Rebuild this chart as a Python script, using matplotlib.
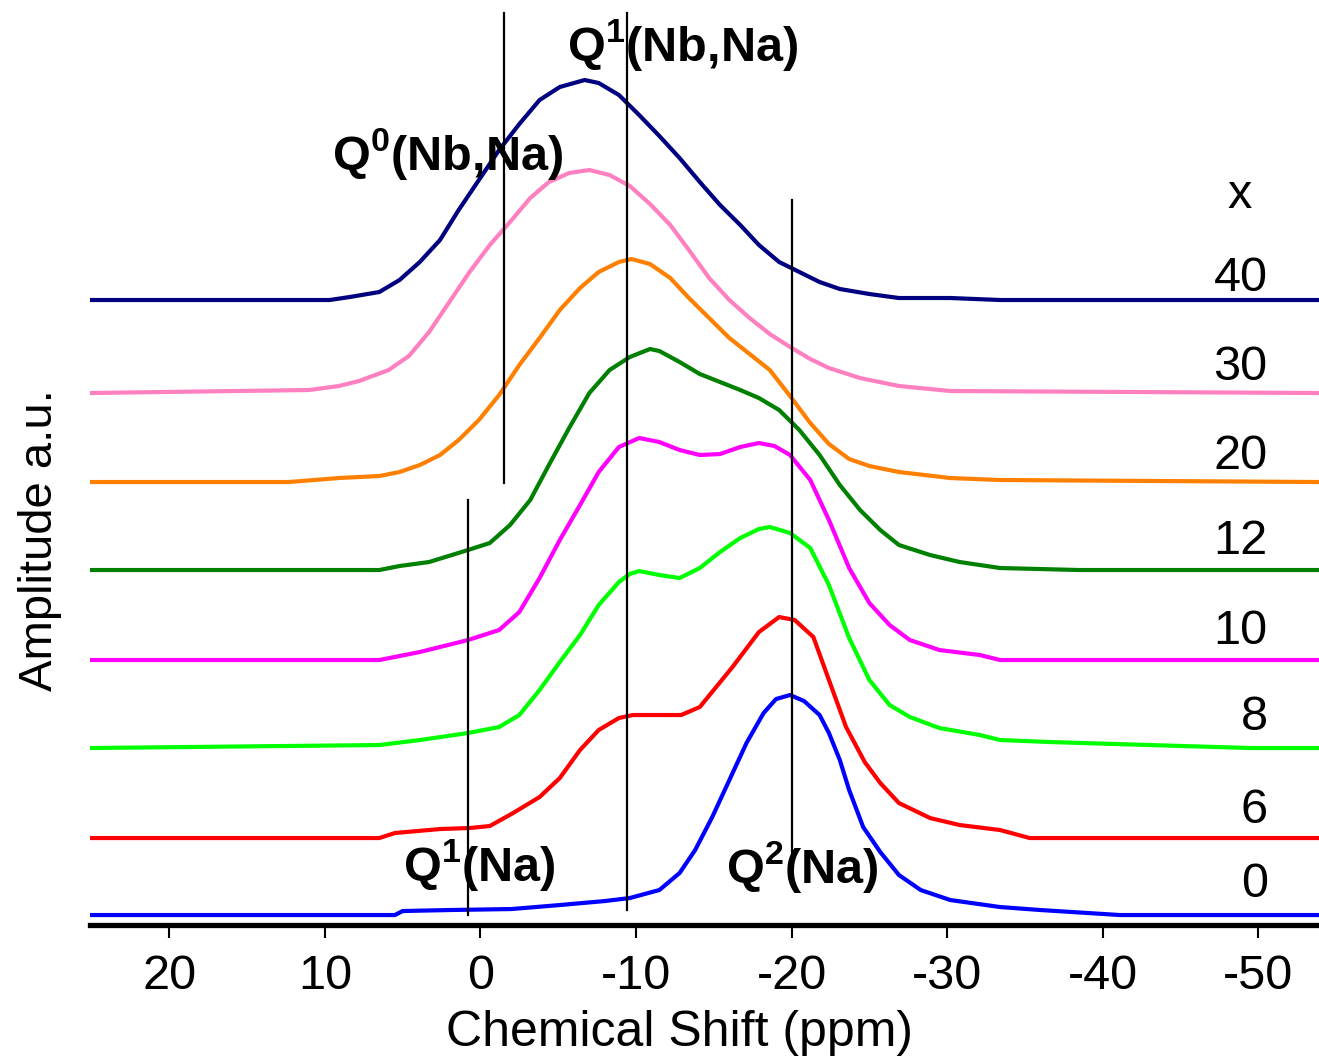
import matplotlib
matplotlib.use("Agg")
from matplotlib import pyplot as plt

plt.rcParams["font.family"] = ["Liberation Sans", "DejaVu Sans"]
plt.rcParams["mathtext.fontset"] = "custom"
plt.rcParams["mathtext.rm"] = "Liberation Sans"
plt.rcParams["mathtext.bf"] = "Liberation Sans:bold"
plt.rcParams["axes.unicode_minus"] = False

# composition labels (x) and vertical offsets of each trace
x_values = ["0", "6", "8", "10", "12", "20", "30", "40"]
offsets = [0.10, 0.87, 1.77, 2.65, 3.55, 4.43, 5.32, 6.25]
label_y = [0.41, 1.15, 2.08, 2.94, 3.84, 4.69, 5.58, 6.47]
colors = ["#0000ff", "#ff0000", "#00ff00", "#ff00ff", "#008000", "#ff8000", "#ff80c0", "#000080"]

# spectra: chemical shift (ppm) and amplitude above baseline (a.u.)
ppm_0 = [25.1, 5.5, 5.0, 2.0, -2.0, -5.1, -8.0, -9.6, -11.5, -12.8, -13.8, -14.9, -16.0, -17.1, -18.2,
         -19.0, -19.9, -20.8, -21.8, -22.4, -23.1, -23.7, -24.6, -25.7, -26.9, -28.3, -30.2, -33.4, -36.0,
         -41.1, -53.9]
amp_0 = [0, 0, 0.04, 0.05, 0.06, 0.10, 0.14, 0.17, 0.25, 0.42, 0.65, 0.98, 1.35, 1.72, 2.02,
         2.16, 2.20, 2.14, 2.00, 1.82, 1.55, 1.25, 0.88, 0.63, 0.40, 0.25, 0.15, 0.08, 0.05,
         0, 0]

ppm_6 = [25.1, 6.5, 5.5, 2.6, 0.7, -0.6, -2.1, -3.8, -5.1, -6.4, -7.6, -8.9, -9.8, -12.9, -14.1, -16.2,
         -17.9, -19.2, -20.2, -21.4, -22.4, -23.5, -24.7, -25.7, -26.9, -28.9, -30.8, -33.4, -35.3, -53.9]
amp_6 = [0, 0, 0.05, 0.09, 0.10, 0.12, 0.25, 0.41, 0.60, 0.88, 1.08, 1.20, 1.23, 1.23, 1.31, 1.71,
         2.06, 2.21, 2.18, 2.01, 1.58, 1.11, 0.76, 0.55, 0.35, 0.20, 0.13, 0.08, 0, 0]

ppm_8 = [25.1, 6.5, 3.9, 0.8, -1.2, -2.5, -3.8, -5.1, -6.4, -7.6, -8.9, -9.6, -10.2, -11.5, -12.8, -14.1,
         -15.4, -16.7, -17.9, -18.6, -19.9, -21.2, -22.4, -23.7, -25.0, -26.3, -27.6, -29.5, -32.1, -33.4,
         -36.6, -43.0, -49.5, -53.9]
amp_8 = [0, 0.03, 0.08, 0.15, 0.21, 0.33, 0.58, 0.86, 1.13, 1.43, 1.66, 1.74, 1.77, 1.73, 1.70, 1.80,
         1.96, 2.10, 2.19, 2.21, 2.15, 2.00, 1.63, 1.10, 0.68, 0.43, 0.31, 0.20, 0.13, 0.08,
         0.06, 0.03, 0, 0]

ppm_10 = [25.1, 6.5, 3.9, 0.8, -1.2, -2.5, -3.8, -5.1, -6.4, -7.6, -8.9, -10.2, -11.5, -12.8, -14.1,
          -15.4, -16.7, -17.9, -18.9, -19.9, -21.2, -22.4, -23.7, -25.0, -26.3, -27.6, -29.5, -32.1,
          -33.4, -53.9]
amp_10 = [0, 0, 0.08, 0.20, 0.30, 0.48, 0.82, 1.20, 1.55, 1.88, 2.13, 2.22, 2.18, 2.10, 2.05,
          2.06, 2.13, 2.17, 2.14, 2.05, 1.80, 1.40, 0.92, 0.57, 0.35, 0.20, 0.10, 0.05,
          0, 0]

ppm_12 = [25.1, 6.5, 5.2, 3.3, 0.8, -0.6, -1.9, -3.2, -4.4, -5.7, -7.0, -8.3, -9.6, -10.9, -11.5, -12.8,
          -14.1, -15.4, -16.7, -17.9, -19.2, -20.5, -21.8, -23.1, -24.4, -25.7, -26.9, -28.9, -30.8,
          -33.4, -38.5, -53.9]
amp_12 = [0, 0, 0.04, 0.08, 0.20, 0.27, 0.45, 0.70, 1.05, 1.42, 1.77, 2.00, 2.13, 2.21, 2.19, 2.08,
          1.96, 1.88, 1.80, 1.72, 1.60, 1.40, 1.15, 0.85, 0.60, 0.40, 0.25, 0.15, 0.08,
          0.02, 0, 0]

ppm_20 = [25.1, 12.3, 9.1, 6.5, 5.2, 3.9, 2.6, 1.4, 0.1, -1.2, -2.5, -3.8, -5.1, -6.4, -7.6, -8.9, -9.7,
          -10.9, -12.2, -13.4, -14.7, -16.0, -17.3, -18.6, -19.9, -21.2, -22.4, -23.7, -25.0, -26.9,
          -30.2, -33.4, -53.9]
amp_20 = [0, 0, 0.04, 0.06, 0.10, 0.17, 0.27, 0.42, 0.62, 0.87, 1.17, 1.44, 1.72, 1.94, 2.10, 2.20, 2.23,
          2.18, 2.04, 1.84, 1.64, 1.44, 1.28, 1.12, 0.86, 0.59, 0.38, 0.23, 0.16, 0.10,
          0.04, 0.02, 0]

ppm_30 = [25.1, 11.0, 9.1, 7.8, 5.9, 4.6, 3.3, 2.0, 0.7, -0.6, -1.9, -3.2, -4.4, -5.7, -7.0, -8.3, -9.6,
          -10.9, -12.2, -13.4, -14.7, -16.0, -17.3, -18.6, -19.9, -21.2, -22.4, -24.4, -26.9, -30.2, -53.9]
amp_30 = [0, 0.03, 0.07, 0.12, 0.23, 0.37, 0.61, 0.91, 1.21, 1.48, 1.71, 1.95, 2.11, 2.20, 2.23, 2.18, 2.07,
          1.89, 1.68, 1.43, 1.15, 0.93, 0.75, 0.59, 0.46, 0.34, 0.25, 0.15, 0.07, 0.02, 0]

ppm_40 = [25.1, 9.7, 8.4, 6.5, 5.2, 3.9, 2.6, 1.4, 0.1, -1.2, -2.5, -3.8, -5.1, -6.7, -7.6, -8.9, -10.2,
          -11.5, -12.8, -14.1, -15.4, -16.7, -17.9, -19.2, -20.5, -21.8, -23.1, -25.0, -26.9, -30.2,
          -33.4, -53.9]
amp_40 = [0, 0, 0.03, 0.08, 0.20, 0.38, 0.60, 0.90, 1.20, 1.50, 1.76, 2.00, 2.13, 2.20, 2.17, 2.05, 1.85,
          1.64, 1.42, 1.18, 0.95, 0.75, 0.55, 0.38, 0.28, 0.18, 0.11, 0.06, 0.02, 0.02,
          0, 0]

spectra = [(ppm_0, amp_0), (ppm_6, amp_6), (ppm_8, amp_8), (ppm_10, amp_10),
           (ppm_12, amp_12), (ppm_20, amp_20), (ppm_30, amp_30), (ppm_40, amp_40)]

# reference peak positions (ppm) with vertical extent of the marker lines
peak_lines = [(-1.54, 4.42, 9.12), (-9.39, 0.15, 9.12), (0.77, 0.10, 4.25), (-20.0, 0.45, 7.25)]
peak_labels = [r"Q$^{\mathbf{1}}$(Nb,Na)", r"Q$^{\mathbf{0}}$(Nb,Na)", r"Q$^{\mathbf{1}}$(Na)", r"Q$^{\mathbf{2}}$(Na)"]
peak_label_pos = [(-13.0, 8.80), (2.1, 7.70), (0.06, 0.60), (-20.7, 0.57)]

fig = plt.figure(figsize=(13.19, 10.59), dpi=100)
ax = fig.add_axes([0.0682, 0.1265, 0.9318, 0.8735])

for (ppm, amp), off, c in zip(spectra, offsets, colors):
    ax.plot(ppm, [a + off for a in amp], color=c, lw=3, solid_joinstyle="round")

for xp, y0, y1 in peak_lines:
    ax.plot([xp, xp], [y0, y1], color="black", lw=1.6)

for lab, (xp, yp) in zip(peak_labels, peak_label_pos):
    ax.text(xp, yp, lab, fontsize=35, fontweight="bold", ha="center", va="center")

# x labels on the right
ax.text(-48.8, 7.30, "x", fontsize=35, ha="center", va="center")
for lab, yp in zip(x_values, label_y):
    ax.text(-50.6, yp, lab, fontsize=35, ha="right", va="center")

ax.set_xlim(25.1, -53.9)
ax.set_ylim(0, 9.25)
ax.set_xticks([20, 10, 0, -10, -20, -30, -40, -50])
ax.set_yticks([])
for s in ["left", "top", "right"]:
    ax.spines[s].set_visible(False)
ax.spines["bottom"].set_linewidth(3.8)
ax.tick_params(axis="x", direction="out", length=9, width=1.5, pad=12, labelsize=35)
ax.set_xlabel("Chemical Shift (ppm)", fontsize=36)
ax.xaxis.set_label_coords(0.48, -0.117)
ax.xaxis.label.set_va("center")
fig.text(0.03, 0.49, "Amplitude a.u.", fontsize=34, rotation=90, ha="center", va="center")

plt.savefig("out.png", dpi=100)
